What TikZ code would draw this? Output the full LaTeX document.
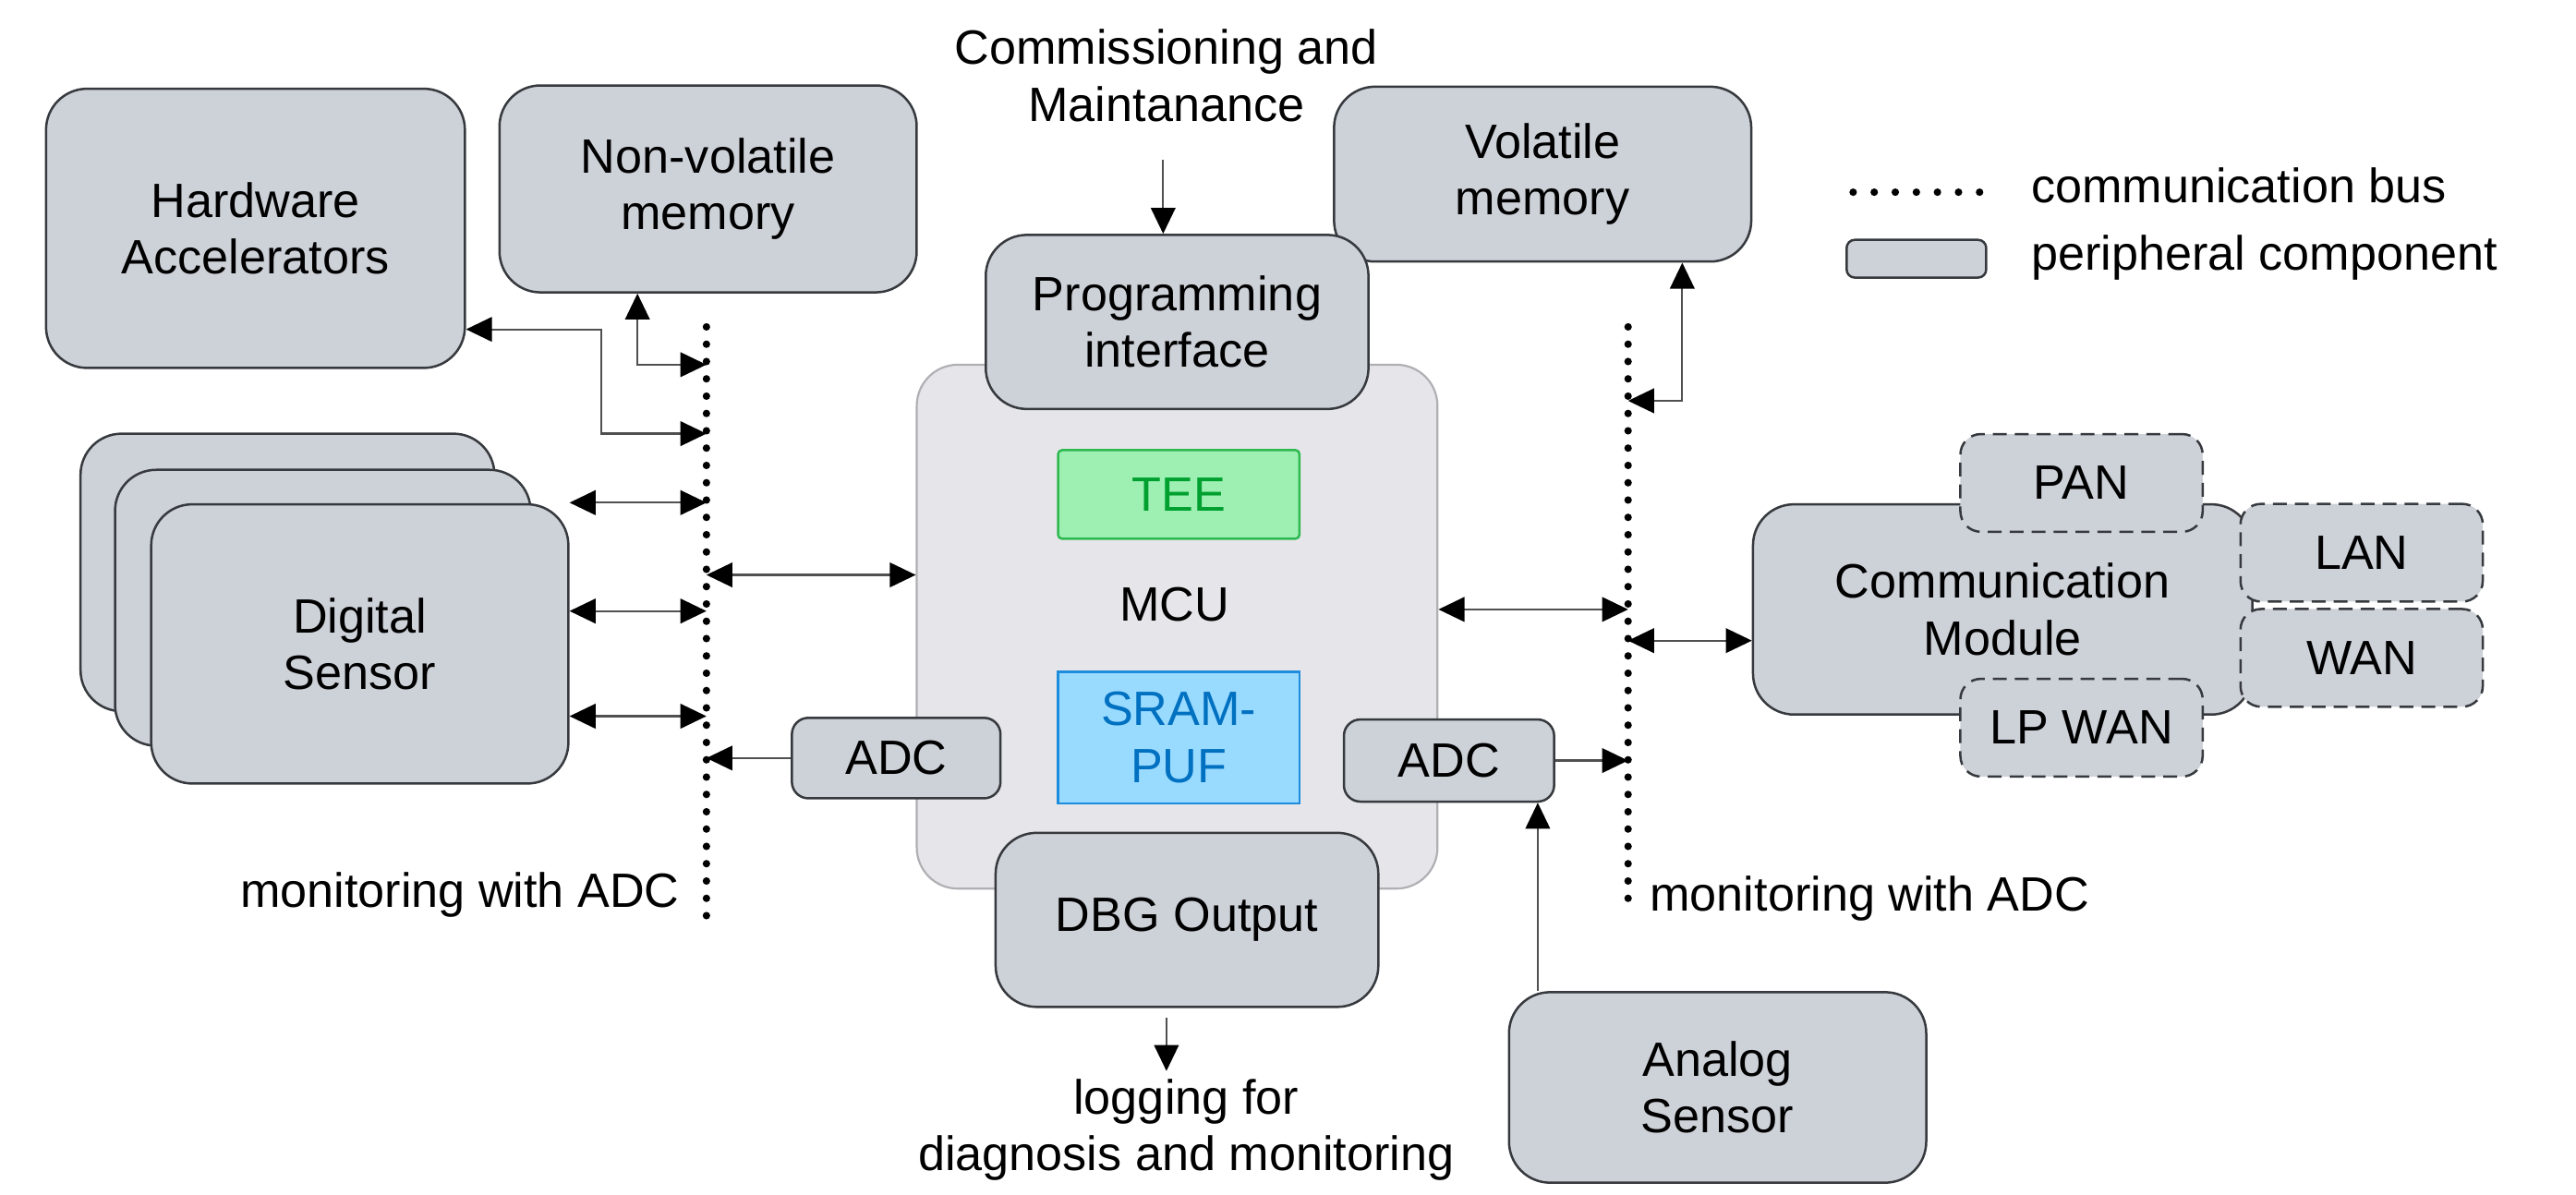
\documentclass[tikz,border=0pt]{standalone}
\usepackage{fontspec}
\setmainfont{Liberation Sans}
\usepackage{tikz}
\usetikzlibrary{arrows.meta}
\definecolor{periphfill}{RGB}{205,209,216}
\definecolor{periphline}{RGB}{54,57,61}
\definecolor{mcufill}{RGB}{230,230,234}
\definecolor{mculine}{RGB}{176,176,180}
\definecolor{teefill}{RGB}{157,240,178}
\definecolor{teeline}{RGB}{46,184,80}
\definecolor{teetext}{RGB}{0,160,48}
\definecolor{puffill}{RGB}{153,218,255}
\definecolor{pufline}{RGB}{30,140,220}
\definecolor{puftext}{RGB}{0,112,192}
\definecolor{wiregray}{RGB}{80,80,80}
\tikzstyle{periph} = [rectangle, rounded corners=0.5cm, draw=periphline, line width=0.8pt, fill=periphfill, text centered, align=center]
\tikzstyle{smallperiph} = [periph, rounded corners=0.2cm]
\tikzstyle{netbox} = [periph, rounded corners=0.25cm, dash pattern=on 4.8pt off 2.8pt, minimum width=2.95cm, minimum height=1.19cm]
\tikzstyle{mcubox} = [rectangle, rounded corners=0.5cm, draw=mculine, line width=0.7pt, fill=mcufill]
\tikzstyle{teebox} = [rectangle, rounded corners=0.05cm, draw=teeline, line width=0.8pt, fill=teefill, text=teetext, minimum width=2.94cm, minimum height=1.08cm]
\tikzstyle{pufbox} = [rectangle, draw=pufline, line width=0.8pt, fill=puffill, text=puftext, align=center, minimum width=2.94cm, minimum height=1.6cm]
\tikzstyle{bus} = [line width=2.6pt, dash pattern=on 0pt off 6pt, line cap=round]
\tikzstyle{arrow} = [draw=wiregray, line width=0.7pt, -{Triangle[length=9pt,width=8.5pt,color=black]}]
\tikzstyle{biarrow} = [draw=wiregray, line width=0.7pt, {Triangle[length=9pt,width=8.5pt,color=black]}-{Triangle[length=9pt,width=8.5pt,color=black]}]
\tikzstyle{plain} = [inner sep=0pt, align=center]

\begin{document}
\begin{tikzpicture}[x=0.02cm, y=-0.02cm, font=\fontsize{16.7pt}{19.6pt}\selectfont]
\useasboundingbox (0,0) rectangle (1568,727);

% memories and accelerators
\node (hwacc) [periph, minimum width=5.1cm, minimum height=3.4cm] at (155.5,139) {Hardware\\Accelerators};
\node (nvmem) [periph, minimum width=5.08cm, minimum height=2.52cm] at (431,115) {Non-volatile\\memory};
\node (volmem) [periph, minimum width=5.08cm, minimum height=2.13cm] at (939,106) {Volatile\\memory};

% MCU with its parts
\node (mcu) [mcubox, minimum width=6.34cm, minimum height=6.38cm] at (716.5,381.5) {};
\node (mcuname) at (715,368) {MCU};
\node (tee) [teebox] at (717.5,301) {TEE};
\node (puf) [pufbox] at (717.5,449) {SRAM-\\PUF};
\node (prog) [periph, minimum width=4.66cm, minimum height=2.12cm] at (716.5,196) {Programming\\interface};
\node (dbg) [periph, minimum width=4.66cm, minimum height=2.12cm] at (722.5,560) {DBG Output};
\node (adcl) [smallperiph, minimum width=2.54cm, minimum height=0.98cm] at (545.5,461.5) {ADC};
\node (adcr) [smallperiph, minimum width=2.56cm, minimum height=1cm] at (882,463) {ADC};

% sensors
\node (dsens3) [periph, minimum width=5.04cm, minimum height=3.38cm] at (175,348.5) {};
\node (dsens2) [periph, minimum width=5.06cm, minimum height=3.36cm] at (196.5,370) {};
\node (dsens) [periph, minimum width=5.08cm, minimum height=3.4cm] at (219,392) {Digital\\Sensor};
\node (analog) [periph, minimum width=5.08cm, minimum height=2.32cm] at (1045.5,662) {Analog\\Sensor};

% communication
\node (comm) [periph, minimum width=6.08cm, minimum height=2.56cm] at (1219,371) {Communication\\Module};
\node (pan) [netbox] at (1267,294) {PAN};
\node (lan) [netbox] at (1437.5,336.5) {LAN};
\node (wan) [netbox] at (1437.5,400.5) {WAN};
\node (lpwan) [netbox] at (1267,443) {LP WAN};

% free texts
\node (commission) [plain] at (710,46) {Commissioning and\\Maintanance};
\node (logging) [plain] at (722,688) {logging for\\diagnosis and monitoring};
\node (monl) [plain, anchor=east] at (414,545) {monitoring with ADC};
\node (monr) [plain, anchor=west] at (1004,547) {monitoring with ADC};

% legend
\coordinate (legA) at (1128,117);
\coordinate (legB) at (1207,117);
\draw [bus, dash pattern=on 0pt off 7.3pt] (legA) -- (legB);
\node (legbus) [plain, anchor=west] at (1236,113) {communication bus};
\node (legbox) [periph, rounded corners=0.1cm, minimum width=1.7cm, minimum height=0.46cm] at (1166.5,157.5) {};
\node (legperiph) [plain, anchor=west] at (1236,157) {peripheral component};

% buses
\coordinate (busLtop) at (430,199);
\coordinate (busLbot) at (430,558);
\coordinate (busRtop) at (991,199);
\coordinate (busRbot) at (991,557);
\draw [bus] (busLtop) -- (busLbot);
\draw [bus] (busRtop) -- (busRbot);

% connections left
\draw [biarrow] ([xshift=-0.86cm]nvmem.south) |- (busLtop |- 0,222);
\draw [biarrow] ([yshift=-1.23cm]hwacc.east) -| (366,264) -- (busLtop |- 0,264);
\foreach \y in {306,372,436}
  \draw [biarrow] (dsens.east |- 0,\y) -- (busLtop |- 0,\y);
\draw [biarrow] (busLtop |- 0,350) -- (mcu.west |- 0,350);
\draw [arrow] (adcl.west) -- (adcl.west -| busLtop);

% connections right
\draw [biarrow] (busRtop |- 0,244) -| ([xshift=1.7cm]volmem.south);
\draw [biarrow] (mcu.east |- 0,371) -- (busRtop |- 0,371);
\draw [biarrow] (busRtop |- 0,390) -- (comm.west |- 0,390);
\draw [arrow] (adcr.east) -- (adcr.east -| busRtop);
\draw [arrow] ([xshift=-2.19cm]analog.north) -- ([xshift=-2.19cm]analog.north |- adcr.south);

% in and out
\coordinate (cmtail) at (708,97);
\draw [arrow] (cmtail) -- (cmtail |- prog.north);
\coordinate (logtip) at (710,652);
\draw [arrow, shorten <=0.12cm] (dbg.south -| logtip) -- (logtip);
\end{tikzpicture}
\end{document}
